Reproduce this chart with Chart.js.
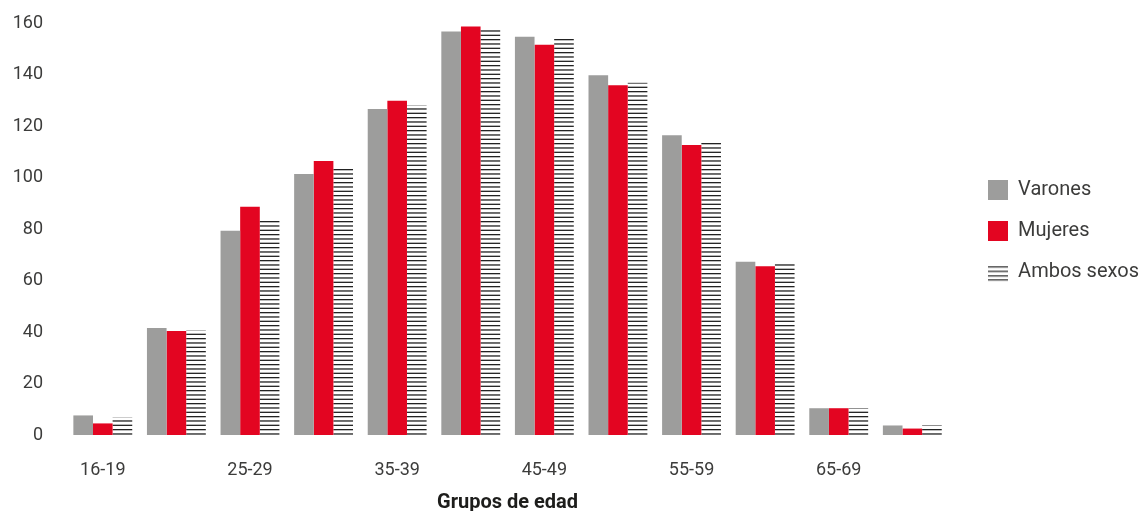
<!DOCTYPE html>
<html>
<head>
<meta charset="utf-8">
<script src="https://cdn.jsdelivr.net/npm/chart.js@4/dist/chart.umd.min.js"></script>
<style>
  html, body { margin: 0; padding: 0; background: #ffffff; }
  #wrap { width: 1142px; height: 511px; position: relative; }
</style>
</head>
<body>
<div id="wrap"><canvas id="chart" width="1142" height="511"></canvas></div>
<script>
// Age groups (only every other label is printed on the axis)
const categories = ['16-19', '20-24', '25-29', '30-34', '35-39', '40-44', '45-49', '50-54', '55-59', '60-64', '65-69', '70 y más'];
const varones = [7.6, 41.6, 79.3, 101.4, 126.6, 156.7, 154.7, 139.7, 116.4, 67.3, 10.4, 3.7];
const mujeres = [4.5, 40.4, 88.6, 106.4, 129.8, 158.6, 151.6, 135.8, 112.6, 65.5, 10.4, 2.5];
const ambos = [6.9, 40.6, 83.6, 103.4, 128.2, 157.7, 153.8, 136.8, 113.7, 66.5, 10.4, 3.7];
const yTicks = [0, 20, 40, 60, 80, 100, 120, 140, 160];

const GRAY = '#9d9d9c';
const RED = '#e30521';
const INK = '#222222';
const TEXT = '#3c3c3b';
const FONT = "Roboto, 'DejaVu Sans', sans-serif";

// Horizontal line fill for the "Ambos sexos" bars
function makeStripes() {
  const c = document.createElement('canvas');
  c.width = 4; c.height = 13;
  const g = c.getContext('2d');
  g.fillStyle = INK;
  [0, 4.33, 8.67].forEach(y => g.fillRect(0, y, 4, 1.3));
  return g.createPattern(c, 'repeat');
}

// Legend icons
function swatch(color) {
  const c = document.createElement('canvas');
  c.width = 20; c.height = 20;
  const g = c.getContext('2d');
  g.fillStyle = color;
  g.fillRect(0, 0, 20, 20);
  return c;
}
function stripeIcon() {
  const c = document.createElement('canvas');
  c.width = 20; c.height = 20;
  const g = c.getContext('2d');
  g.fillStyle = INK;
  [4, 8.5, 13, 17].forEach(y => g.fillRect(0, y, 20, 1.2));
  return c;
}

const stripes = makeStripes();

new Chart(document.getElementById('chart'), {
  type: 'bar',
  data: {
    labels: categories,
    datasets: [
      { label: 'Varones', data: varones, backgroundColor: GRAY, pointStyle: swatch(GRAY) },
      { label: 'Mujeres', data: mujeres, backgroundColor: RED, pointStyle: swatch(RED) },
      { label: 'Ambos sexos', data: ambos, backgroundColor: stripes, pointStyle: stripeIcon() }
    ]
  },
  options: {
    responsive: false,
    animation: false,
    events: [],
    layout: { padding: { top: 23, left: 13, right: -7, bottom: 0 } },
    datasets: { bar: { categoryPercentage: 0.8, barPercentage: 1.0, borderWidth: 0 } },
    scales: {
      x: {
        grid: { display: false, drawTicks: false },
        border: { display: false },
        afterFit: s => { s.height = 76; },
        ticks: {
          color: TEXT,
          font: { family: FONT, size: 18 },
          padding: 25,
          maxRotation: 0,
          autoSkip: false,
          callback: (v, i) => (i % 2 === 0 ? categories[i] : '')
        },
        title: {
          display: true,
          text: 'Grupos de edad',
          color: '#1d1d1b',
          font: { family: FONT, size: 20, weight: 'bold' },
          padding: { top: 8, bottom: -4 }
        }
      },
      y: {
        min: 0,
        max: 160,
        afterBuildTicks: axis => { axis.ticks = yTicks.map(v => ({ value: v })); },
        afterFit: s => { s.width = 53; s.paddingTop = 0; s.paddingBottom = 0; },
        grid: { display: false, drawTicks: false },
        border: { display: false },
        ticks: {
          color: TEXT,
          font: { family: FONT, size: 18 },
          padding: 23
        }
      },
      // empty spacer between the plot and the legend
      gap: {
        type: 'linear',
        position: 'right',
        grid: { display: false, drawTicks: false },
        border: { display: false },
        ticks: { display: false },
        afterFit: s => { s.width = 18; s.paddingTop = 0; s.paddingBottom = 0; }
      }
    },
    plugins: {
      tooltip: { enabled: false },
      legend: {
        position: 'right',
        fullSize: false,
        title: { display: true, text: ' ', font: { size: 3 }, padding: 0.5 },
        labels: {
          usePointStyle: true,
          boxWidth: 20,
          boxHeight: 20,
          padding: 21,
          color: TEXT,
          font: { family: FONT, size: 20 }
        }
      }
    }
  }
});
</script>
</body>
</html>
